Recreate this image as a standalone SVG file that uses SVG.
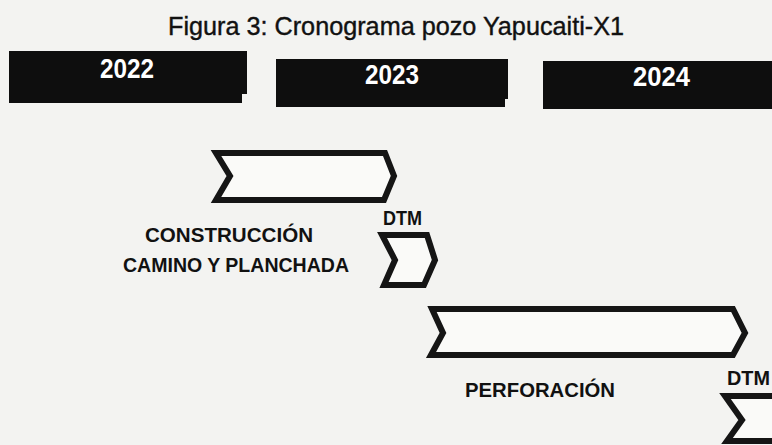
<svg xmlns="http://www.w3.org/2000/svg" width="772" height="445" viewBox="0 0 772 445">
<style>
.title{font-family:"Liberation Sans",Arial,sans-serif;font-size:26px;fill:#111;stroke:#111;stroke-width:0.4}
.year{font-family:"Liberation Sans",Arial,sans-serif;font-weight:bold;font-size:28px;fill:#fff}
.lbl{font-family:"Liberation Sans",Arial,sans-serif;font-weight:bold;font-size:20px;fill:#111}
.box{fill:#0e0e0e}
.chev{fill:#fafaf8;stroke:#151515;stroke-width:6;stroke-linejoin:miter}
</style>
<rect width="772" height="445" fill="#f3f3f1"/>
<text class="title" x="168" y="35" textLength="456" lengthAdjust="spacingAndGlyphs">Figura 3: Cronograma pozo Yapucaiti-X1</text>
<g id="y2022">
<path class="box" d="M9,51 H247 V94 H242 V103 H9 Z"/>
<text class="year" x="100" y="78" textLength="54" lengthAdjust="spacingAndGlyphs">2022</text>
</g>
<g id="y2023">
<path class="box" d="M276,59 H508 V99 H505 V107 H276 Z"/>
<text class="year" x="365" y="84" textLength="54" lengthAdjust="spacingAndGlyphs">2023</text>
</g>
<g id="y2024">
<rect class="box" x="543" y="61" width="229" height="48"/>
<text class="year" x="633" y="86" textLength="57" lengthAdjust="spacingAndGlyphs">2024</text>
</g>
<g id="construccion">
<path class="chev" d="M216,153 L385,153 L394,176 L384,200 L216,200 L230,176 Z"/>
<text class="lbl" x="229" y="242" text-anchor="middle" textLength="168" lengthAdjust="spacingAndGlyphs">CONSTRUCCIÓN</text>
<text class="lbl" x="236" y="272" text-anchor="middle" textLength="226" lengthAdjust="spacingAndGlyphs">CAMINO Y PLANCHADA</text>
</g>
<g id="dtm1">
<text class="lbl" x="383" y="225" textLength="39" lengthAdjust="spacingAndGlyphs">DTM</text>
<path class="chev" d="M382,235 L427,235 L435,260 L424,285 L384,285 L395,260 Z"/>
</g>
<g id="perforacion">
<path class="chev" d="M432,309 L733,309 L745,333 L733,355 L431,355 L443,333 Z"/>
<text class="lbl" x="465" y="397" textLength="150" lengthAdjust="spacingAndGlyphs">PERFORACIÓN</text>
</g>
<g id="dtm2">
<text class="lbl" x="727" y="385" textLength="43" lengthAdjust="spacingAndGlyphs">DTM</text>
<path class="chev" d="M725,396 L785,396 L795,420 L785,441 L727,441 L742,420 Z"/>
</g>
<g id="connectors"/>
</svg>
